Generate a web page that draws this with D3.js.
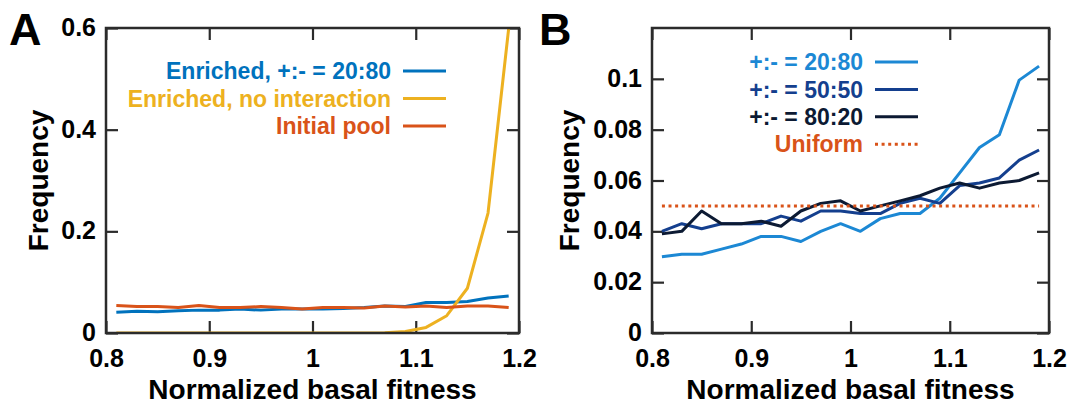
<!DOCTYPE html>
<html><head><meta charset="utf-8">
<script src="https://cdn.jsdelivr.net/npm/d3@7"></script>
<style>
html,body{margin:0;padding:0;background:#fff;}
text{font-family:"Liberation Sans",Arial,Helvetica,sans-serif;font-weight:bold;}
</style></head>
<body><svg id="chart" width="1070" height="404"></svg>
<script>
// ---------- data ----------
const binCenters = [0.81,0.83,0.85,0.87,0.89,0.91,0.93,0.95,0.97,0.99,1.01,1.03,1.05,1.07,1.09,1.11,1.13,1.15,1.17,1.19];

// Panel A
const enriched2080A = [0.041,0.043,0.042,0.044,0.045,0.045,0.047,0.045,0.047,0.047,0.047,0.048,0.050,0.053,0.052,0.060,0.060,0.062,0.069,0.073];
const enrichedNoInt = [0,0,0,0,0,0,0,0,0,0,0,0,0,0.0005,0.003,0.011,0.034,0.088,0.236,0.599];
const initialPool   = [0.054,0.052,0.052,0.050,0.054,0.050,0.050,0.052,0.050,0.047,0.050,0.050,0.049,0.053,0.051,0.053,0.050,0.053,0.053,0.050];

// Panel B
const ratio2080 = [0.030,0.031,0.031,0.033,0.035,0.038,0.038,0.036,0.040,0.043,0.040,0.045,0.047,0.047,0.053,0.063,0.073,0.078,0.0995,0.105];
const ratio5050 = [0.040,0.043,0.041,0.043,0.043,0.043,0.046,0.044,0.048,0.048,0.047,0.047,0.051,0.053,0.051,0.058,0.059,0.061,0.068,0.072];
const ratio8020 = [0.039,0.040,0.048,0.043,0.043,0.044,0.042,0.048,0.051,0.052,0.048,0.050,0.052,0.054,0.057,0.059,0.057,0.059,0.060,0.063];
const uniformLevel = 0.05;

const xTicks = [0.8,0.9,1,1.1,1.2];
const yTicksA = [0,0.2,0.4,0.6];
const yTicksB = [0,0.02,0.04,0.06,0.08,0.1];

const legendA = ["Enriched, +:- = 20:80","Enriched, no interaction","Initial pool"];
const legendB = ["+:- = 20:80","+:- = 50:50","+:- = 80:20","Uniform"];
const xTitle = "Normalized basal fitness";
const yTitle = "Frequency";

// ---------- drawing ----------
const svg = d3.select("#chart");
const frameColor = "#2b2b2b";

function panel(opts){
  const {left,right,top,bottom,yMax,yTicks,series,legend,label,labelX,legX,legY0,legDY,titleX} = opts;
  const x = d3.scaleLinear().domain([0.8,1.2]).range([left,right]);
  const y = d3.scaleLinear().domain([0,yMax]).range([bottom,top]);
  const g = svg.append("g");

  const fmt = d => String(d);
  const styleAxis = a => {
    a.select(".domain").remove();
    a.selectAll(".tick line").attr("stroke",frameColor).attr("stroke-width",2.2);
    a.selectAll(".tick text").attr("fill","#000").style("font-size","25px").style("font-weight","bold")
      .style("font-family",'"Liberation Sans",Arial,sans-serif');
  };
  g.append("g").attr("transform",`translate(0,${bottom})`)
    .call(d3.axisBottom(x).tickValues(xTicks).tickFormat(fmt).tickSize(-12).tickPadding(16))
    .call(styleAxis);
  g.append("g").attr("transform",`translate(0,${top})`)
    .call(d3.axisTop(x).tickValues(xTicks).tickFormat("").tickSize(-12))
    .call(styleAxis);
  g.append("g").attr("transform",`translate(${left},0)`)
    .call(d3.axisLeft(y).tickValues(yTicks).tickFormat(fmt).tickSize(-12).tickPadding(10))
    .call(styleAxis)
    .selectAll(".tick text").attr("dy","0.3em");
  g.append("g").attr("transform",`translate(${right},0)`)
    .call(d3.axisRight(y).tickValues(yTicks).tickFormat("").tickSize(-12))
    .call(styleAxis);

  const clipId = "clip"+label;
  svg.append("clipPath").attr("id",clipId).append("rect")
    .attr("x",left).attr("y",top-2).attr("width",right-left).attr("height",bottom-top+2);

  const line = d3.line().x((d,i)=>x(binCenters[i])).y(d=>y(d));
  series.forEach(s=>{
    if(s.dotted){
      g.append("line").attr("x1",x(binCenters[0])).attr("x2",x(binCenters[binCenters.length-1]))
        .attr("y1",y(s.values)).attr("y2",y(s.values))
        .attr("stroke",s.color).attr("stroke-width",3).attr("stroke-dasharray","3,3.6");
    } else {
      g.append("path").datum(s.values).attr("d",line).attr("fill","none")
        .attr("stroke",s.color).attr("stroke-width",3).attr("stroke-linejoin","round")
        .attr("clip-path",`url(#${clipId})`);
    }
  });

  g.append("rect").attr("x",left).attr("y",top).attr("width",right-left).attr("height",bottom-top)
    .attr("fill","none").attr("stroke",frameColor).attr("stroke-width",2.5);

  // legend
  series.forEach((s,i)=>{
    const ly = legY0 + i*legDY;
    g.append("text").attr("x",legX).attr("y",ly).attr("dy","0.36em").attr("text-anchor","end")
      .attr("fill",s.color).style("font-size","23px").text(legend[i]);
    g.append("line").attr("x1",legX+12).attr("x2",legX+55).attr("y1",ly).attr("y2",ly)
      .attr("stroke",s.color).attr("stroke-width",3)
      .attr("stroke-dasharray",s.dotted?"3,3.6":null);
  });

  // titles
  g.append("text").attr("x",(left+right)/2).attr("y",399).attr("text-anchor","middle")
    .style("font-size","28px").attr("fill","#000").text(xTitle);
  g.append("text").attr("transform",`translate(${titleX},${(top+bottom)/2}) rotate(-90)`)
    .attr("text-anchor","middle").style("font-size","28px").attr("fill","#000").text(yTitle);
  g.append("text").attr("x",labelX).attr("y",45).style("font-size","45px").attr("fill","#000").text(label);
}

panel({left:106,right:519,top:28,bottom:333,yMax:0.6,yTicks:yTicksA,
  series:[{values:enriched2080A,color:"#0072BD"},{values:enrichedNoInt,color:"#EDB120"},{values:initialPool,color:"#D95319"}],
  legend:legendA,label:"A",labelX:9,legX:391,legY0:71,legDY:27.5,titleX:48});

panel({left:652,right:1049,top:28,bottom:333,yMax:0.12,yTicks:yTicksB,
  series:[{values:ratio2080,color:"#1c88d4"},{values:ratio5050,color:"#143f8e"},{values:ratio8020,color:"#0c1a33"},{values:uniformLevel,color:"#D95319",dotted:true}],
  legend:legendB,label:"B",labelX:539,legX:863,legY0:62,legDY:27.4,titleX:579});
</script>
</body></html>
